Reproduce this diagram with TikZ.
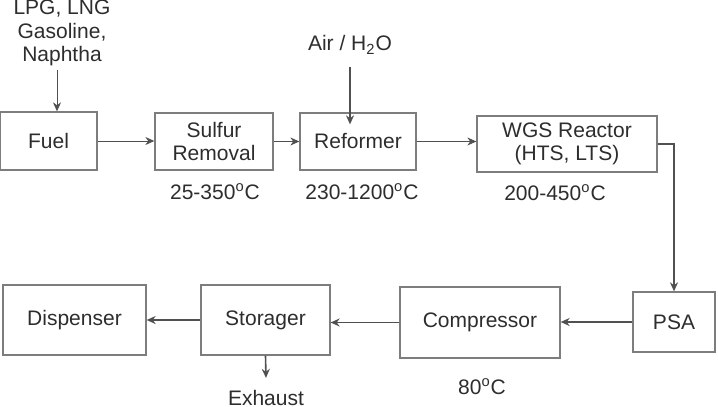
\documentclass[tikz,border=0pt]{standalone}
\usepackage{fontspec}
\setmainfont{Liberation Sans}
\usetikzlibrary{arrows.meta,calc}
\definecolor{boxline}{RGB}{125,125,125}
\definecolor{txtgray}{RGB}{45,45,45}
\definecolor{arrgray}{RGB}{80,80,80}

\begin{document}
\begin{tikzpicture}[
    x=0.5pt, y=-0.5pt,
    every node/.style={font=\fontsize{10.5}{11.75}\selectfont, text=txtgray},
    blk/.style={rectangle, draw=boxline, line width=0.65pt, align=center, inner sep=1pt},
    lbl/.style={align=center, inner sep=0pt},
    arr/.style={-{Stealth[length=4.5pt,width=4pt]}, draw=arrgray, line width=0.45pt},
    farr/.style={arr, line width=0.8pt},
]
\useasboundingbox (0,0) rectangle (718,407);

% ── Top row: feed preparation ──
\node[lbl] (feed) at (62,33) {LPG, LNG\\Gasoline,\\Naphtha};
\node[lbl] (air) at (350,45) {Air / H\textsubscript{2}O};
\node[blk, minimum width=48.5pt, minimum height=29pt] (fuel) at (48.5,141) {Fuel};
\node[blk, minimum width=59pt, minimum height=28.5pt] (sulf) at (214,141.5) {Sulfur\\Removal};
\node[blk, minimum width=58pt, minimum height=28.5pt] (refo) at (358,141.5) {Reformer};
\node[blk, minimum width=90pt, minimum height=28pt] (wgs) at (567,144) {WGS Reactor\\(HTS, LTS)};

% temperatures
\node[lbl] (tsulf) at (215,192) {25-350\textsuperscript{o}C};
\node[lbl] (trefo) at (362,192) {230-1200\textsuperscript{o}C};
\node[lbl] (twgs) at (555,193) {200-450\textsuperscript{o}C};

% ── Bottom row: purification and delivery ──
\node[blk, minimum width=41pt, minimum height=30pt] (psa) at (674,322) {PSA};
\node[blk, minimum width=80pt, minimum height=35.5pt] (comp) at (480,322.5) {Compressor};
\node[blk, minimum width=64.5pt, minimum height=35pt] (stor) at (265.5,320) {Storager};
\node[blk, minimum width=71.5pt, minimum height=35pt] (disp) at (74.5,320) {Dispenser};
\node[lbl] (tcomp) at (482,387) {80\textsuperscript{o}C};
\node[lbl] (exh) at (266,398) {Exhaust};

% ── Connectors ──
\coordinate (fin) at (57,70);
\draw[arr] (fin) -- (fin |- fuel.north);
\draw[farr] ([yshift=-6pt]air.south) -- ([yshift=-6pt]air.south |- refo.north);
\draw[arr] (fuel.east) -- (fuel.east -| sulf.west);
\draw[arr] (sulf.east) -- (sulf.east -| refo.west);
\draw[arr] (refo.east) -- (refo.east -| wgs.west);
\draw[farr] (wgs.east) -| (psa.north);
\draw[farr] (psa.west) -- (psa.west -| comp.east);
\draw[farr] (comp.west) -- (comp.west -| stor.east);
\draw[farr] (stor.west) -- (stor.west -| disp.east);
\draw[farr] (stor.south) -- ([yshift=6pt]exh.north);

\end{tikzpicture}
\end{document}
